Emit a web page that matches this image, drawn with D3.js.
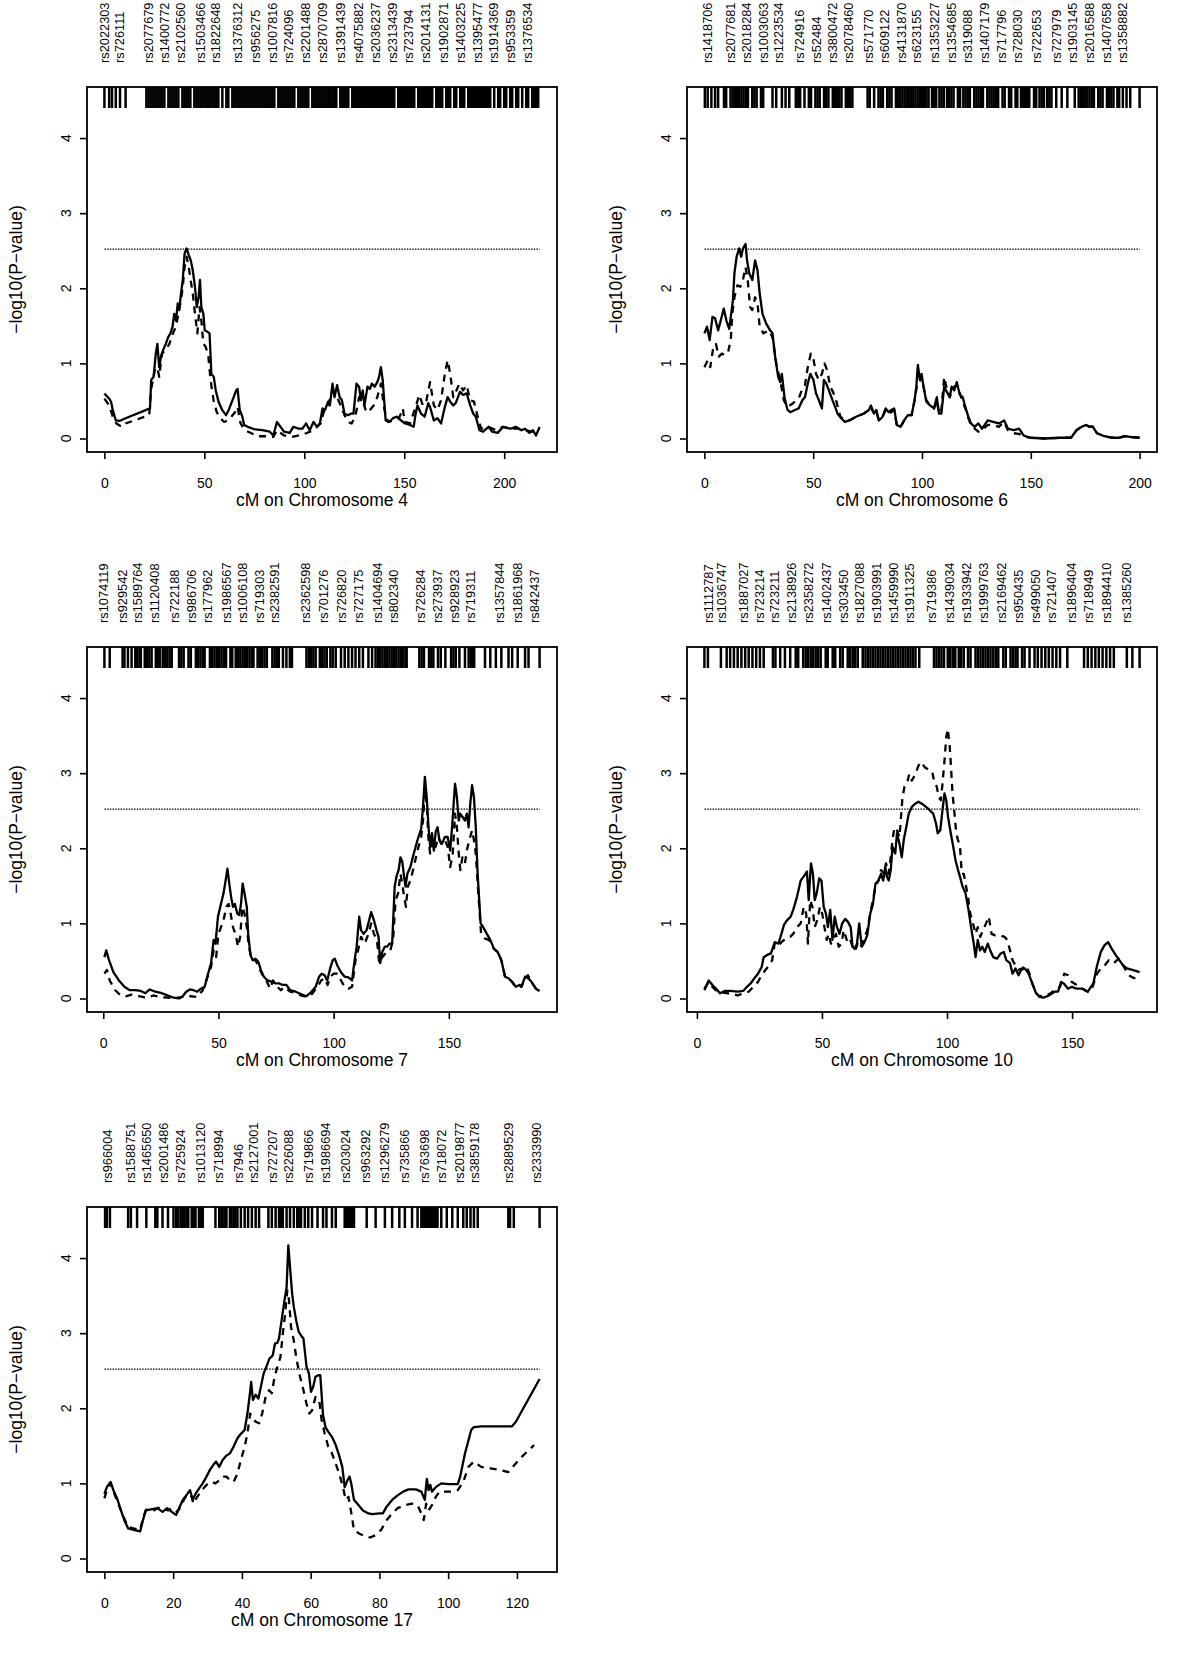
<!DOCTYPE html>
<html><head><meta charset="utf-8">
<script src="https://cdn.jsdelivr.net/npm/d3@7"></script>
<style>
body{margin:0;background:#fff}
svg{display:block}
text{font-family:"Liberation Sans",Arial,Helvetica,sans-serif;fill:#000}
</style>
</head><body>
<svg id="chart" width="1200" height="1680"></svg>
<script>
// ---------------- DATA ----------------
const chromosomes = ["4", "6", "7", "10", "17"];
const yTicks = [0, 1, 2, 3, 4];
const yLimits = [0, 4.5];
const threshold = 2.52;
const xTicks4 = [0, 50, 100, 150, 200];
const xTicks6 = [0, 50, 100, 150, 200];
const xTicks7 = [0, 50, 100, 150];
const xTicks10 = [0, 50, 100, 150];
const xTicks17 = [0, 20, 40, 60, 80, 100, 120];

const snp4 = ["rs2022303","rs726111","rs2077679","rs1400772","rs2102560","rs1503466","rs1822648","rs1376312","rs956275","rs1007816","rs724096","rs2201488","rs2870709","rs1391439","rs4075882","rs2036237","rs2313439","rs723794","rs2014131","rs1902871","rs1403225","rs1395477","rs1914369","rs953359","rs1376534"];
const snp4Pos = [0.3,7.5,22.0,30.0,37.9,47.9,55.5,66.5,75.5,84.0,92.0,100.5,109.0,118.0,127.1,135.6,144.1,152.1,160.6,169.6,178.2,186.7,194.7,203.2,211.7];
const snp6 = ["rs1418706","rs2077681","rs2018284","rs1003063","rs1223534","rs724916","rs52484","rs3800472","rs2078460","rs571770","rs609122","rs4131870","rs623155","rs1353227","rs1354685","rs319088","rs1407179","rs717796","rs728030","rs722653","rs727979","rs1903145","rs2016588","rs1407658","rs1358882"];
const snp6Pos = [1.5,12.0,19.4,27.0,33.9,43.8,51.5,59.1,66.0,75.2,82.9,90.5,97.4,105.8,113.5,121.1,128.8,136.4,144.1,152.5,161.7,169.3,177.0,184.7,192.3];
const snp7 = ["rs1074119","rs929542","rs1589764","rs1120408","rs722188","rs986706","rs177962","rs1986567","rs1006108","rs719303","rs2382591","rs2362598","rs701276","rs726820","rs727175","rs1404694","rs802340","rs726284","rs273937","rs928923","rs719311","rs1357844","rs1861968","rs842437"];
const snp7Pos = [0.3,8.3,14.8,22.1,30.8,38.1,45.3,53.4,60.6,67.9,74.5,87.6,95.6,103.6,110.9,118.9,126.2,137.8,145.1,152.4,159.6,172.0,180.0,187.3];
const snp10 = ["rs1112787","rs1036747","rs1887027","rs723214","rs723211","rs2138926","rs2358272","rs1402437","rs303450","rs1827088","rs1903991","rs1459990","rs1911325","rs719386","rs1439034","rs1933942","rs1999763","rs2169462","rs950435","rs499050","rs721407","rs1896404","rs718949","rs1894410","rs1385260"];
const snp10Pos = [4.5,9.9,18.6,25.2,31.2,37.9,44.5,51.9,58.5,65.2,71.9,78.5,85.2,93.9,101.2,107.9,114.5,121.9,128.5,135.2,141.9,149.9,156.5,163.9,171.9];
const snp17 = ["rs966004","rs1588751","rs1465650","rs2001486","rs725924","rs1013120","rs718994","rs7946","rs2127001","rs727207","rs226088","rs719866","rs1986694","rs203024","rs963292","rs1296279","rs735866","rs763698","rs718072","rs2019877","rs3859178","rs2889529","rs2333990"];
const snp17Pos = [0.8,7.6,12.3,17.2,22.1,27.9,33.2,39.1,43.5,48.8,53.7,59.5,64.4,70.2,76.1,81.4,87.3,93.1,98.0,103.4,107.7,117.5,125.8];

const markers4 = [0,2.4,3.8,5.7,7.8,10.6,21,22,23,24,25,26,27,28,29,30,32,33,34,35,36,37,39,40,41,42,43,45,46,47,48,49,50,51,52,53,54,55,56,57,59,61,62,64,65,66,67,68,69,70,71,72,73,74,75,76,77,78,79,80,81,82,83,84,85,87,88,89,90,91,92,93,94,95,97,98,99,100,101,102,104,105,106,107,108,109,110,111,112,113,114,115,116,118,119,120,121,122,124,125,126,127,128,129,130,131,132,133,134,135,136,137,138,139,140,141,142,143,144,145,147,148,149,150,151,152,153,154,155,157,158,159,160,161,162,163,164,166,167,168,169,171,172,173,175,176,178,179,180,182,183,184,185,186,187,188,189,190,191,192,193,195,197,198,200,201,203,204,206,207,209,211,212,214,215,216,217];
const markers6 = [0.2,1.5,3.2,4.9,6.3,9,10,12,13,14,15,16,17,18,19,20,22,23,24,26,27,31.3,33,35.6,37.3,39,42,43,44,46,48,49,51,52,53,55,56,57,59,60,61,62,63,65,66,67,68,75,76,78,80,81,82,84,85,86,88,89,90,91,92,93,94,95,96,97,98,99,100,101,102,103,104.6,105.6,106.5,108,109,110,111.5,112.5,113.5,114.5,116.5,117.5,119,120,121,122,124,125,126,127,128,130,131,132,133,134,135,137,138,140,141,143,143.8,145.5,146.3,147.3,148.3,149.3,151.5,152.5,154,155,156,157.5,158.5,159.5,161.7,164.2,166.8,170.2,172,173,174,175,176,177,178,179,181,182,183,185,186,187,188,189.8,190.6,192.3,194,195.7,200];
const markers7 = [0.5,2.8,8.4,9.2,10.7,12.3,13.9,14.7,15.7,16.3,18,19,20,21,22.8,23.8,24.5,25.8,26.8,27.8,28.8,29.7,32.9,33.9,34.9,37,38,40.2,41.2,42.2,43.2,44,46.3,47.3,48.3,49.3,50.3,51.3,52.3,53.3,55.2,56,57.5,58.5,59.5,60.5,61.5,62.5,63.5,64.5,65.2,67,68,69,70,71,73.4,74.4,75.4,76.2,78,79.5,81,81.9,88.2,89.2,90.2,91.2,92.2,94,95,96,97,98.6,99.6,100.9,103.2,104.8,106.4,108,109.5,111.1,112.7,115.1,116.7,118.2,119.2,120.2,121.2,122.2,123.2,124.2,125.2,126.2,127.2,128.2,129.2,130.2,131.2,131.7,137.2,138.2,139.2,141.4,142.4,143.3,145.3,146.5,148.5,151,152,153,154.6,157,158.6,159.6,160.5,161,165.7,168,170.4,172.8,175.9,177.5,179.9,183.1,184.6,189.4];
const markers10 = [3,4.4,9.6,11.9,13.3,14.8,16.3,17.8,19.3,20.7,22.2,23.7,25.2,26.7,30.4,31.4,33.3,35.2,37.3,39.5,40.5,42.5,43.5,44.5,45.5,46.5,47.5,48.5,49.5,51.5,52.3,54.3,55.3,57.3,58.3,60.3,61.3,62.3,63.3,64.3,66.3,67.4,68.4,69.4,70.4,71.4,72.4,73.4,74.4,75.4,76.4,77.4,78.4,79.4,80.4,81.4,82.4,83.4,84.4,85.4,86.4,87.4,88.9,94.8,95.8,96.8,97.8,98.8,100.3,101.3,102.3,103.3,104.7,105.7,106.7,108.4,109.4,111.4,112.4,113.4,114.4,115.4,116.4,117.4,118.5,119.5,120.5,122.5,123.5,125.4,126.4,127.4,128.2,130,131,133,135,136.3,137.8,139.3,140.7,142.2,143.7,145.2,148.1,154.8,156.3,157.8,159.3,160.7,162.2,163.7,165.2,166.7,171.9,174.1,177];
const markers17 = [0.2,0.7,1.6,6.9,7.7,9.5,12.2,14.8,15.4,16.9,18.5,20.1,20.9,21.5,22.2,22.8,23.3,23.9,24.4,25.4,26,26.5,27.5,28.1,28.6,32.3,33.4,34,34.4,35,35.5,36.5,37,37.6,38.1,38.7,39.7,40.8,41.8,42.9,44,45,47.7,48.7,49.8,50.8,51.4,51.9,53,54,55.1,56.1,56.6,57.2,58.3,59.3,60.4,62,63.6,64.6,66.2,67.3,69.9,70.2,70.4,70.7,71,71.2,71.5,71.8,72,72.3,72.6,76.3,78.9,81.6,83.7,85.8,87.4,89.5,91.1,92.2,92.7,93.2,93.8,94.3,94.8,95.3,95.9,96.4,96.9,98,99.6,101.2,102.8,104.4,105.4,106.5,107.5,108.6,117.5,118,119.1,126.6];

const solid4 = [[0,0.60],[2.4,0.53],[3.3,0.49],[4.2,0.38],[5.7,0.24],[7.8,0.235],[10.6,0.27],[22.8,0.40],[23.4,0.78],[24.6,0.82],[25.7,1.13],[26.5,1.26],[27.4,0.95],[28.3,1.09],[29.4,1.18],[30.7,1.26],[31.9,1.35],[33,1.40],[34.1,1.49],[34.9,1.66],[35.8,1.57],[36.7,1.80],[37.4,1.71],[38.3,1.93],[39.2,2.11],[40.1,2.46],[41.1,2.53],[42.2,2.44],[43.2,2.37],[44.2,2.24],[45.3,2.02],[46.2,1.75],[47.1,1.88],[47.8,2.11],[48.5,1.75],[49.5,1.66],[50.2,1.44],[51.6,1.42],[52.6,1.40],[53.5,0.86],[54.7,0.82],[55.7,0.64],[57.1,0.49],[58.9,0.38],[60.8,0.31],[62.2,0.38],[63.5,0.47],[64.4,0.53],[65.9,0.64],[66.6,0.66],[67.7,0.38],[69,0.29],[69.9,0.18],[71.7,0.155],[75.4,0.12],[79,0.11],[82.7,0.09],[84.5,0.04],[86.3,0.22],[88.1,0.155],[89.9,0.09],[92.7,0.075],[94.5,0.155],[97.3,0.13],[99.1,0.13],[100.9,0.2],[102.7,0.11],[104.6,0.22],[106.4,0.155],[107.8,0.2],[109.1,0.40],[110.4,0.38],[111.9,0.49],[112.8,0.44],[114.1,0.73],[115.1,0.55],[116.4,0.71],[117.7,0.55],[118.8,0.51],[120.1,0.33],[121.9,0.31],[123.2,0.33],[124.6,0.33],[126.1,0.73],[127.4,0.69],[128.3,0.51],[129.2,0.64],[130.1,0.44],[131.6,0.69],[132.8,0.66],[133.8,0.73],[135.2,0.69],[136.5,0.75],[137.4,0.82],[138.3,0.95],[139.2,0.78],[140.7,0.24],[142.5,0.22],[144.3,0.27],[146.5,0.29],[148.4,0.24],[150.5,0.2],[152.9,0.18],[154.7,0.155],[155.7,0.33],[156.6,0.44],[158.4,0.33],[160.2,0.29],[162,0.47],[162.9,0.42],[164.8,0.24],[166.6,0.27],[168.4,0.2],[170.3,0.42],[171.7,0.55],[173,0.49],[174.5,0.44],[175.7,0.47],[176.6,0.53],[177.9,0.62],[179.4,0.58],[181.2,0.60],[183,0.44],[184.5,0.33],[185.8,0.29],[187.6,0.11],[189.4,0.09],[192.2,0.155],[194,0.09],[196.7,0.075],[199.5,0.155],[203.1,0.13],[205.8,0.155],[208.6,0.11],[210.4,0.13],[212.6,0.075],[214.4,0.11],[215.9,0.04],[217.7,0.155]];
const dashed4 = [[0,0.53],[2.4,0.44],[4.2,0.29],[6,0.2],[8.8,0.155],[10.6,0.2],[22.4,0.31],[23.4,0.66],[25.2,0.91],[26.5,0.95],[27.4,0.82],[28.8,1.13],[30.7,1.18],[32.5,1.26],[34.3,1.40],[35.8,1.49],[37,1.66],[38.3,1.84],[39.2,2.02],[40.1,2.28],[41.1,2.42],[42.2,2.28],[43.1,2.11],[44.2,1.93],[45.3,1.66],[46.5,1.40],[47.6,1.75],[48.5,1.57],[49.5,1.26],[50.7,1.22],[52,1.09],[53.1,0.78],[54.6,0.51],[56.2,0.35],[58,0.27],[59.9,0.22],[61.7,0.24],[63.5,0.29],[65.3,0.35],[66.6,0.42],[68.1,0.2],[70.3,0.11],[73.5,0.07],[77.2,0.03],[80.8,0.03],[84.5,0.02],[86.3,0.11],[89.9,0.04],[93.6,0.02],[97.3,0.04],[100.9,0.07],[104.6,0.11],[108.2,0.2],[110,0.38],[111.9,0.44],[114.1,0.64],[115.9,0.58],[118.2,0.44],[120.1,0.31],[121.9,0.22],[123.7,0.2],[125.5,0.29],[127.4,0.55],[129.2,0.51],[131,0.35],[132.8,0.38],[134.7,0.44],[136.5,0.55],[138.3,0.73],[140.1,0.38],[141.9,0.22],[144.7,0.24],[147.4,0.27],[149.3,0.40],[150.2,0.22],[152.9,0.2],[155.7,0.42],[157.5,0.58],[159.3,0.44],[161.1,0.51],[162.9,0.75],[164.8,0.44],[166.6,0.38],[168.4,0.51],[170.3,0.86],[171.7,1.04],[173,0.86],[174.5,0.55],[176.1,0.64],[177.6,0.73],[179.4,0.64],[181.2,0.71],[183,0.51],[184.9,0.49],[186.7,0.29],[188.5,0.13],[192.2,0.155],[195.8,0.11],[199.5,0.155],[203.1,0.13],[206.7,0.13],[210.4,0.11],[214,0.09],[217.7,0.13]];

const solid6 = [[0,1.40],[1.2,1.49],[2.4,1.31],[3.7,1.62],[4.9,1.60],[6.3,1.44],[7.5,1.57],[8.9,1.73],[10.1,1.57],[11.4,1.46],[12.3,1.66],[13.1,1.84],[13.8,2.20],[14.8,2.42],[16,2.53],[16.9,2.42],[17.7,2.53],[18.9,2.59],[19.6,2.37],[20.6,2.20],[22,2.11],[23.3,2.37],[24.4,2.24],[25.4,1.93],[26.7,1.66],[28.4,1.53],[30.2,1.44],[31.3,1.40],[32.5,1.09],[33.9,0.82],[34.8,0.75],[35.6,0.86],[36.8,0.55],[38.2,0.38],[39.4,0.35],[41.6,0.38],[43.3,0.40],[45,0.51],[46.2,0.55],[47.5,0.73],[48.7,0.86],[50.1,0.78],[51.3,0.60],[52.6,0.51],[54,0.40],[54.9,0.78],[56,0.73],[57.2,0.64],[58.6,0.53],[59.8,0.44],[61.2,0.33],[62.9,0.27],[64.6,0.22],[66.6,0.24],[69.7,0.29],[73.1,0.33],[75.6,0.38],[76.5,0.44],[77.9,0.33],[79,0.38],[80.2,0.24],[81.9,0.29],[83.3,0.40],[84.7,0.35],[85.9,0.38],[87.2,0.40],[88.4,0.18],[90.1,0.155],[91.8,0.24],[93.5,0.31],[95.2,0.31],[96.6,0.51],[97.4,0.69],[98.1,0.98],[99,0.78],[99.8,0.86],[100.7,0.69],[102,0.49],[103.7,0.44],[105.5,0.40],[106.8,0.55],[107.8,0.33],[108.9,0.33],[110.2,0.69],[111.4,0.62],[112.8,0.55],[113.6,0.69],[114.8,0.64],[116,0.75],[117.4,0.58],[118.7,0.55],[119.9,0.42],[121.3,0.29],[122.5,0.2],[124.2,0.155],[125.9,0.2],[127.6,0.13],[130.2,0.24],[132.7,0.22],[135.3,0.2],[137.8,0.24],[139.5,0.13],[142.1,0.11],[144.6,0.13],[146.7,0.04],[149.7,0.01],[156.6,0],[163.4,0.01],[168.5,0.01],[171,0.11],[173.3,0.155],[175.3,0.18],[177,0.155],[178.4,0.16],[180.4,0.07],[183.8,0.03],[187.2,0.01],[190.6,0.01],[193.2,0.03],[195.7,0.02],[200,0.01]];
const dashed6 = [[0,0.95],[1.5,1.04],[2.7,0.95],[4.1,1.22],[5.3,1.26],[6.6,1.09],[8,1.13],[9.4,1.11],[10.9,1.15],[12.1,1.31],[12.8,1.66],[13.8,1.88],[15.2,2.04],[16.5,2.02],[17.7,2.11],[18.9,2.28],[19.9,2.11],[21,1.75],[22,1.71],[23.3,1.88],[24.4,1.80],[25.4,1.49],[27.1,1.40],[29.6,1.44],[31.3,1.35],[33,1.00],[34.8,0.78],[36.5,0.51],[38.2,0.42],[40.7,0.47],[43.3,0.53],[45,0.66],[46.2,0.71],[47.5,0.95],[48.9,1.13],[50.1,1.06],[51.3,0.86],[52.6,0.78],[54,0.86],[55.2,1.00],[56.4,0.91],[57.8,0.69],[59.1,0.62],[60.5,0.51],[62.5,0.29],[64.6,0.24],[66.6,0.24],[69.7,0.29],[73.1,0.33],[75.6,0.38],[76.5,0.42],[77.9,0.33],[79,0.35],[80.2,0.24],[81.9,0.29],[83.3,0.38],[84.7,0.33],[85.9,0.35],[87.2,0.38],[88.4,0.18],[90.1,0.155],[91.8,0.24],[93.5,0.31],[95.2,0.31],[96.6,0.51],[97.8,0.73],[99,0.75],[99.8,0.82],[100.7,0.69],[102,0.51],[103.7,0.44],[105.5,0.40],[106.8,0.51],[107.8,0.33],[108.9,0.38],[110.2,0.82],[111.4,0.66],[112.8,0.55],[113.6,0.64],[114.8,0.69],[116,0.71],[117.4,0.60],[118.7,0.49],[119.9,0.40],[121.3,0.27],[122.5,0.18],[124.2,0.13],[125.9,0.09],[127.6,0.11],[130.2,0.18],[132.7,0.18],[135.3,0.155],[137.8,0.22],[139.5,0.11],[142.1,0.07],[144.6,0.06],[146.7,0.03],[149.7,0.01],[156.6,0],[163.4,0.01],[168.5,0.01],[171,0.11],[173.3,0.155],[175.3,0.18],[177,0.155],[178.4,0.16],[180.4,0.07],[183.8,0.03],[187.2,0.01],[190.6,0.01],[193.2,0.03],[195.7,0.02],[200,0.01]];

const solid7 = [[0.5,0.55],[1.3,0.64],[2.5,0.51],[4.4,0.35],[6.8,0.24],[9.2,0.155],[11.5,0.11],[13.9,0.11],[16.3,0.10],[18.3,0.07],[20.2,0.12],[22.6,0.09],[25,0.075],[28.1,0.04],[30.5,0.01],[32.9,0],[34.5,0.03],[36,0.09],[37.6,0.12],[39.2,0.11],[40.8,0.09],[42.4,0.13],[44,0.155],[45.5,0.33],[46.8,0.47],[47.9,0.78],[48.7,0.73],[49.8,1.09],[51.1,1.26],[52.2,1.40],[53.1,1.57],[53.9,1.73],[54.7,1.53],[55.5,1.35],[56.3,1.22],[57.1,1.26],[58.2,1.13],[59,1.11],[59.8,1.26],[60.5,1.53],[61.3,1.40],[62.3,1.22],[62.9,0.86],[63.9,0.58],[64.8,0.51],[66.1,0.53],[67.3,0.49],[68.4,0.38],[69.7,0.29],[71.3,0.24],[73.2,0.22],[74.8,0.2],[76.4,0.2],[77.9,0.18],[79.5,0.18],[81.1,0.11],[83.5,0.09],[85.8,0.06],[88.2,0.03],[89.8,0.07],[92.2,0.155],[93.7,0.29],[94.8,0.33],[96.1,0.31],[97.2,0.24],[98.5,0.40],[99.6,0.51],[100.5,0.53],[101.6,0.44],[103.2,0.35],[104.8,0.29],[106.4,0.28],[108,0.24],[109.1,0.51],[110,0.69],[111.1,1.09],[111.9,0.91],[113,0.86],[114.3,0.91],[115.4,1.04],[116.3,1.15],[117.5,1.04],[118.6,0.91],[119.5,0.82],[120.2,0.47],[121.1,0.62],[122.2,0.69],[123.3,0.69],[124.2,0.73],[125.4,0.73],[126.5,1.49],[127.4,1.64],[128.2,1.71],[129,1.88],[129.8,1.82],[130.6,1.62],[131.2,1.49],[132,1.66],[133.3,1.75],[134.8,1.93],[136.4,2.11],[138,2.26],[138.8,2.55],[139.6,2.95],[140.4,2.68],[141.2,2.28],[141.9,2.02],[142.7,2.20],[143.5,1.97],[144.3,2.22],[145.1,2.28],[145.9,2.11],[147,2.06],[148.3,2.15],[149.5,2.15],[150.6,1.97],[151.4,2.28],[152.2,2.64],[152.7,2.86],[153.5,2.68],[154.3,2.37],[154.9,2.46],[155.9,2.42],[157,2.37],[157.8,2.46],[158.6,2.28],[159.3,2.59],[160.1,2.84],[160.9,2.68],[161.7,2.28],[162.5,1.66],[163.8,1.00],[164.9,0.95],[166.5,0.86],[168,0.78],[169.6,0.66],[171.2,0.62],[172.8,0.51],[174.4,0.29],[175.9,0.27],[177.5,0.22],[179.1,0.155],[180.7,0.18],[181.5,0.155],[183.1,0.29],[184.3,0.27],[185.4,0.24],[187.8,0.13],[189.4,0.10]];
const dashed7 = [[0.5,0.33],[1.6,0.38],[2.8,0.24],[5.2,0.11],[7.6,0.04],[10,0.03],[12.3,0.05],[15.5,0.03],[18.7,0.01],[21.8,0.04],[25,0.02],[28.1,0.01],[31.3,0.005],[34.5,0.02],[37.6,0.03],[40.8,0.02],[43.2,0.11],[45.3,0.29],[46.8,0.42],[47.9,0.64],[49,0.55],[50,0.86],[51.1,0.95],[52.2,1.04],[53.4,1.22],[54.4,1.26],[55.3,1.13],[56.3,0.95],[57.4,0.86],[58.5,0.69],[59.4,0.82],[60.4,1.22],[61.3,1.13],[62.3,0.95],[63.2,0.69],[64.5,0.51],[66.1,0.51],[67.7,0.40],[69.2,0.31],[70.8,0.24],[72.4,0.13],[73.7,0.24],[75.6,0.155],[77.1,0.11],[78.7,0.155],[81.1,0.09],[83.5,0.075],[85.8,0.04],[88.2,0.02],[90.6,0.06],[93,0.155],[94.6,0.24],[96.1,0.27],[97.4,0.18],[98.5,0.29],[100.1,0.33],[101.6,0.33],[103.2,0.24],[104.8,0.155],[106.4,0.13],[108,0.155],[109.5,0.51],[110.6,0.64],[111.9,0.82],[113.5,0.73],[115.1,0.86],[116.3,1.00],[117.5,0.86],[118.8,0.78],[119.8,0.47],[121.1,0.55],[123,0.62],[124.6,0.64],[125.8,0.78],[126.9,1.31],[128,1.40],[129,1.66],[129.8,1.53],[130.6,1.35],[131.4,1.22],[132.2,1.49],[133.3,1.57],[134.8,1.75],[136.4,1.97],[138,2.15],[138.8,2.37],[139.6,2.77],[140.4,2.59],[141.2,2.11],[141.9,1.93],[143.2,2.11],[144.3,2.02],[145.4,2.15],[146.7,2.06],[148.3,2.11],[149.5,2.02],[150.6,1.75],[151.7,1.93],[152.7,2.46],[153.5,2.28],[154.3,1.93],[155,1.71],[155.9,1.88],[157,1.80],[157.8,1.97],[158.9,2.11],[160.1,2.24],[160.9,2.11],[161.7,1.93],[162.8,1.40],[164,0.86],[165.6,0.80],[167.2,0.78],[168,0.76],[169.6,0.66],[171.2,0.62],[172.8,0.51],[174.4,0.29],[175.9,0.27],[177.5,0.22],[179.1,0.155],[180.7,0.18],[181.5,0.155],[183.1,0.27],[184.3,0.31],[185.4,0.24],[187.8,0.13],[189.4,0.10]];

const solid10 = [[3,0.11],[4.7,0.24],[6.2,0.18],[7.7,0.13],[9.2,0.07],[11.1,0.10],[13.3,0.10],[16.3,0.09],[18.5,0.10],[20,0.155],[21.5,0.2],[23,0.27],[24.4,0.33],[25.9,0.42],[26.7,0.55],[28.1,0.58],[29.6,0.60],[31.1,0.75],[32.6,0.73],[33.8,0.86],[34.8,0.98],[36,1.04],[37.5,1.09],[38.5,1.18],[40,1.35],[41.5,1.57],[43,1.64],[44,1.69],[44.7,1.31],[45.6,1.80],[46.4,1.66],[47.1,1.31],[47.9,1.40],[48.9,1.60],[49.8,1.57],[50.7,1.22],[51.6,1.13],[52.4,0.95],[53.3,1.18],[54.2,0.78],[55.1,1.09],[56,0.95],[57,0.86],[58.1,1.00],[59.3,1.06],[60.4,1.02],[61.5,0.95],[62.2,0.69],[63.1,0.66],[64,0.73],[64.9,1.00],[65.9,0.69],[67,0.75],[68.1,0.84],[69.3,1.13],[70.4,1.26],[71.4,1.53],[72.6,1.57],[73.6,1.66],[74.5,1.57],[75.3,1.75],[76,1.62],[76.7,1.57],[77.5,1.71],[78.2,2.02],[79.3,1.93],[80,2.20],[81,2.06],[81.9,1.88],[82.7,2.11],[83.7,2.28],[84.7,2.46],[85.9,2.55],[87.1,2.59],[88.6,2.62],[90.1,2.59],[91.6,2.55],[93,2.51],[94.5,2.46],[95.6,2.33],[96.3,2.20],[97.3,2.24],[98.2,2.51],[99,2.73],[99.7,2.64],[100.4,2.42],[101.5,2.20],[102.5,2.02],[103.4,1.84],[104.4,1.71],[105.2,1.62],[106.2,1.49],[107.4,1.40],[108.6,1.18],[109.6,0.95],[110.7,0.73],[111.4,0.55],[112.3,0.78],[113.2,0.64],[114.1,0.69],[115.1,0.62],[116.3,0.73],[117.3,0.64],[118.5,0.55],[120,0.53],[121.5,0.60],[122.7,0.62],[123.7,0.51],[125.2,0.47],[126.2,0.33],[127.4,0.40],[128.6,0.31],[129.6,0.38],[131.1,0.40],[132.6,0.33],[134.1,0.2],[135.6,0.07],[137,0.02],[138.5,0.01],[140.7,0.04],[143,0.09],[144.4,0.09],[145.6,0.22],[146.7,0.2],[148.4,0.13],[149.9,0.155],[151.9,0.13],[154.1,0.13],[156.3,0.09],[158.5,0.2],[160,0.44],[161.5,0.62],[163,0.71],[164.4,0.75],[165.9,0.66],[167.4,0.58],[168.9,0.51],[170.4,0.44],[171.9,0.40],[174.1,0.38],[177,0.35]];
const dashed10 = [[3,0.13],[4.7,0.22],[6.2,0.155],[8.1,0.09],[11.1,0.075],[14.1,0.06],[16.3,0.04],[18.5,0.07],[20.7,0.09],[22.5,0.155],[24.4,0.22],[25.9,0.31],[27.4,0.38],[28.9,0.44],[30.1,0.51],[31.1,0.73],[32.3,0.69],[33.8,0.75],[35.6,0.80],[37.3,0.82],[38.5,0.86],[40,0.95],[41.5,1.00],[42.7,1.22],[43.7,1.13],[44.4,0.73],[45.3,1.31],[46.2,1.22],[47.1,0.95],[48.1,1.04],[49.2,1.22],[50.1,1.13],[51,0.95],[51.9,0.78],[52.7,0.86],[53.6,0.73],[54.5,0.78],[55.6,0.86],[56.7,0.69],[57.8,0.73],[58.7,0.91],[59.9,0.78],[61,0.82],[62.2,0.69],[63.4,0.64],[64.4,0.75],[65.5,0.69],[66.7,0.78],[68.1,0.91],[69.3,1.13],[70.4,1.31],[71.4,1.49],[72.6,1.57],[73.6,1.71],[74.8,1.66],[75.6,1.80],[76.6,1.66],[77.5,1.88],[78.2,2.11],[79,2.28],[80,2.24],[81,2.15],[82.2,2.68],[83,2.82],[84,2.86],[84.9,2.99],[85.9,2.90],[87.1,2.97],[88.6,3.10],[89.6,3.15],[91.1,3.08],[93,3.04],[94.1,3.02],[94.8,2.90],[95.9,2.82],[96.7,2.68],[97.5,2.64],[98.2,2.86],[99,3.17],[99.7,3.48],[100.3,3.59],[101,3.39],[101.6,3.08],[102.2,2.73],[103,2.46],[103.7,2.20],[104.4,2.11],[105.2,2.02],[105.9,1.66],[106.7,1.66],[107.4,1.53],[108.4,1.35],[109.3,1.13],[110.4,1.00],[111.4,0.86],[112.3,0.95],[113.3,0.82],[114.4,0.91],[115.6,1.00],[116.7,1.09],[117.8,0.86],[119.3,0.84],[121.2,0.84],[123,0.82],[124.1,0.78],[125.2,0.64],[126.2,0.51],[127.4,0.44],[128.6,0.38],[130.1,0.40],[131.6,0.44],[133,0.33],[134.1,0.2],[135.6,0.075],[137,0.03],[139.3,0.04],[141.5,0.07],[143,0.11],[145.2,0.155],[146.9,0.33],[148.4,0.31],[149.9,0.22],[151.9,0.18],[154.1,0.13],[156.3,0.09],[158.2,0.155],[160,0.33],[161.5,0.40],[163,0.44],[164.7,0.51],[166.7,0.47],[168.6,0.53],[170.4,0.44],[172.6,0.31],[174.8,0.27],[177,0.29]];

const solid17 = [[0,0.86],[0.7,0.95],[1.8,1.02],[2.6,0.91],[3.7,0.80],[4.8,0.64],[5.8,0.51],[6.9,0.40],[8.5,0.38],[10.4,0.36],[11.1,0.49],[12,0.64],[13.2,0.65],[15.4,0.67],[16.9,0.62],[18.3,0.67],[19.6,0.62],[20.9,0.58],[21.7,0.67],[22.8,0.78],[23.8,0.84],[24.9,0.91],[25.7,0.78],[26.5,0.86],[27.5,0.93],[28.6,1.00],[29.7,1.09],[30.7,1.18],[31.6,1.24],[32.5,1.29],[33.4,1.22],[34.4,1.31],[35.5,1.37],[36.5,1.40],[37.6,1.49],[38.7,1.60],[39.7,1.66],[40.8,1.71],[41.6,1.93],[42.4,2.22],[42.7,2.35],[43.2,2.11],[44,2.18],[44.8,2.13],[45.4,2.26],[46.3,2.46],[47.1,2.55],[48,2.66],[48.5,2.68],[49,2.71],[49.6,2.86],[50.3,2.87],[50.8,2.93],[51.7,3.22],[52.4,3.44],[53,3.61],[53.5,4.17],[54,3.88],[54.6,3.53],[55.1,3.35],[55.8,3.17],[56.5,3.02],[57.2,2.97],[57.9,2.93],[58.8,2.55],[59.5,2.46],[60.1,2.22],[60.7,2.28],[61.4,2.42],[62.2,2.44],[62.8,2.44],[63.6,1.91],[64.3,1.75],[65.1,1.69],[66.2,1.62],[67.3,1.51],[68.3,1.37],[69.2,1.22],[69.9,0.95],[70.7,1.04],[71.3,1.09],[71.8,1.00],[72.6,0.78],[73.6,0.73],[75.2,0.64],[76.8,0.60],[77.9,0.59],[80,0.60],[81,0.60],[82.1,0.69],[83.7,0.78],[85.3,0.84],[86.9,0.89],[88.5,0.92],[90.6,0.92],[92.2,0.89],[93.2,0.78],[93.8,1.06],[94.3,0.91],[94.8,0.98],[95.3,0.89],[96.4,0.95],[98,1.00],[100.1,0.99],[102.8,0.99],[103.5,1.09],[104.9,1.40],[105.9,1.57],[106.7,1.71],[107.5,1.75],[109.6,1.76],[112.8,1.76],[116,1.76],[118.6,1.76],[119.7,1.82],[126.6,2.39]];
const dashed17 = [[0,0.80],[0.7,0.91],[1.8,1.00],[2.9,0.86],[4.2,0.71],[5.8,0.53],[6.9,0.42],[8.5,0.40],[10.4,0.38],[11.3,0.55],[12.2,0.65],[14.3,0.64],[16.4,0.69],[18.5,0.64],[20.1,0.67],[21.2,0.62],[22.2,0.69],[23.3,0.80],[24.4,0.86],[25.4,0.82],[25.9,0.73],[27,0.82],[28.1,0.89],[29.1,0.95],[30.2,1.00],[31.3,1.02],[32.3,1.00],[33.4,1.04],[34.4,1.09],[35.5,1.09],[36.5,1.04],[37.6,1.02],[38.7,1.13],[39.7,1.31],[40.8,1.49],[41.6,1.66],[42.4,1.93],[42.9,1.88],[44,1.82],[45,1.80],[45.9,1.93],[46.9,2.15],[47.9,2.24],[48.7,2.20],[49.5,2.42],[50.3,2.55],[51.2,2.68],[51.9,2.99],[52.6,3.26],[53.2,3.57],[53.7,3.44],[54.3,3.08],[55.1,2.90],[55.8,2.68],[56.7,2.46],[57.7,2.28],[58.8,2.06],[59.6,1.93],[60.4,1.97],[61.4,2.15],[62.5,2.11],[63.2,1.84],[64.1,1.66],[65.1,1.49],[66.2,1.40],[67.3,1.26],[68.3,1.13],[69.4,0.95],[70.2,0.78],[71,0.82],[71.7,0.64],[72.6,0.38],[74.2,0.33],[75.7,0.30],[77.3,0.28],[78.9,0.31],[80.5,0.38],[82.1,0.51],[83.7,0.60],[85.3,0.67],[87.4,0.71],[89.5,0.73],[91.1,0.71],[92.2,0.60],[92.9,0.51],[93.6,0.73],[94.3,0.64],[95.3,0.71],[96.4,0.82],[97.5,0.89],[99.2,0.89],[101.3,0.89],[102.8,0.91],[104.4,1.02],[105.9,1.22],[107.5,1.29],[109.6,1.22],[112.3,1.20],[114.9,1.18],[117.5,1.15],[119.2,1.24],[121.3,1.35],[123.4,1.44],[125,1.51]];

// ---------------- DRAWING ----------------
const panels = [
  {chr: chromosomes[0], solid: solid4, dashed: dashed4, markers: markers4, snps: snp4, snpPos: snp4Pos, xTicks: xTicks4},
  {chr: chromosomes[1], solid: solid6, dashed: dashed6, markers: markers6, snps: snp6, snpPos: snp6Pos, xTicks: xTicks6},
  {chr: chromosomes[2], solid: solid7, dashed: dashed7, markers: markers7, snps: snp7, snpPos: snp7Pos, xTicks: xTicks7},
  {chr: chromosomes[3], solid: solid10, dashed: dashed10, markers: markers10, snps: snp10, snpPos: snp10Pos, xTicks: xTicks10},
  {chr: chromosomes[4], solid: solid17, dashed: dashed17, markers: markers17, snps: snp17, snpPos: snp17Pos, xTicks: xTicks17}
];

const svg = d3.select('#chart');
svg.append('rect').attr('width', 1200).attr('height', 1680).attr('fill', '#fff');

const boxW = 470, boxH = 365;

panels.forEach((p, i) => {
  const col = i % 2, row = Math.floor(i / 2);
  const x0 = 87 + col * 600, y0 = 87 + row * 560;
  const ext = d3.extent(p.solid, d => d[0]);
  const r = ext[1] - ext[0];
  const x = d3.scaleLinear().domain([ext[0] - 0.04 * r, ext[1] + 0.04 * r]).range([x0, x0 + boxW]);
  const yr = yLimits[1] - yLimits[0];
  const y = d3.scaleLinear().domain([yLimits[0] - 0.04 * yr, yLimits[1] + 0.04 * yr]).range([y0 + boxH, y0]);
  const g = svg.append('g');

  // SNP labels
  g.append('g').selectAll('text').data(p.snps).join('text')
    .attr('transform', (d, k) => `translate(${x(p.snpPos[k])},${y0 - 24}) rotate(-90)`)
    .attr('dy', '0.35em')
    .attr('text-anchor', 'start')
    .style('font-size', '12.8px')
    .text(d => d);

  // rug of markers
  g.append('g').selectAll('line').data(p.markers).join('line')
    .attr('x1', d => x(d)).attr('x2', d => x(d))
    .attr('y1', y0).attr('y2', y(4.40))
    .attr('stroke', '#000').attr('stroke-width', 2.5);

  // threshold
  g.append('line')
    .attr('x1', x(ext[0])).attr('x2', x(ext[1]))
    .attr('y1', y(threshold)).attr('y2', y(threshold))
    .attr('stroke', '#000').attr('stroke-width', 1.3)
    .attr('stroke-dasharray', '1.5,1.2');

  const line = d3.line().x(d => x(d[0])).y(d => y(d[1]));
  g.append('path').attr('d', line(p.dashed))
    .attr('fill', 'none').attr('stroke', '#000').attr('stroke-width', 2.3)
    .attr('stroke-dasharray', '7,6').attr('stroke-linejoin', 'round');
  g.append('path').attr('d', line(p.solid))
    .attr('fill', 'none').attr('stroke', '#000').attr('stroke-width', 2.3)
    .attr('stroke-linejoin', 'round');

  // box
  g.append('rect').attr('x', x0).attr('y', y0).attr('width', boxW).attr('height', boxH)
    .attr('fill', 'none').attr('stroke', '#000').attr('stroke-width', 1.8);

  // x axis
  const xa = g.append('g').attr('transform', `translate(0,${y0 + boxH})`)
    .call(d3.axisBottom(x).tickValues(p.xTicks).tickSize(7).tickSizeOuter(0).tickPadding(19).tickFormat(d3.format('d')));
  xa.select('.domain').remove();
  xa.selectAll('line').attr('stroke', '#000').attr('stroke-width', 1.6);
  xa.selectAll('text').style('font-size', '14px').attr('font-family', null);

  // y axis
  const ya = g.append('g').attr('transform', `translate(${x0},0)`)
    .call(d3.axisLeft(y).tickValues(yTicks).tickSize(7).tickSizeOuter(0).tickFormat(''));
  ya.select('.domain').remove();
  ya.selectAll('line').attr('stroke', '#000').attr('stroke-width', 1.6);
  g.append('g').selectAll('text').data(yTicks).join('text')
    .attr('transform', d => `translate(${x0 - 21},${y(d)}) rotate(-90)`)
    .attr('dy', '0.35em')
    .attr('text-anchor', 'middle')
    .style('font-size', '14px')
    .text(d => d);

  // axis titles
  g.append('text')
    .attr('x', x0 + boxW / 2).attr('y', y0 + boxH + 54)
    .attr('text-anchor', 'middle').style('font-size', '17.5px')
    .text(`cM on Chromosome ${p.chr}`);
  g.append('text')
    .attr('transform', `translate(${x0 - 65},${y0 + boxH / 2}) rotate(-90)`)
    .attr('text-anchor', 'middle').style('font-size', '17.5px')
    .text('\u2212log10(P\u2212value)');
});
</script>
</body></html>
